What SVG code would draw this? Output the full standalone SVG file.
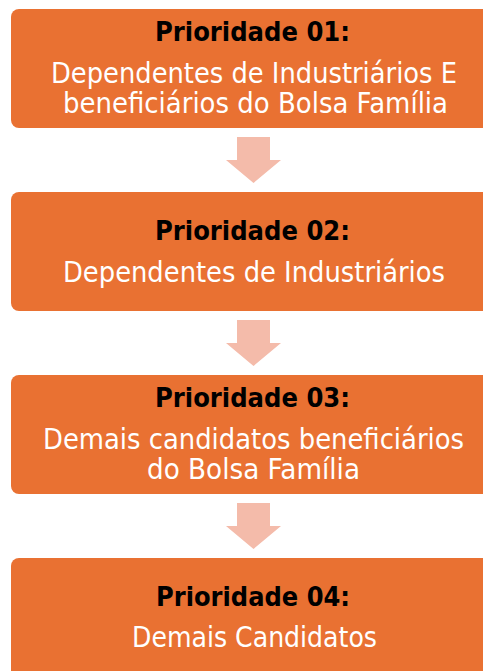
<svg xmlns="http://www.w3.org/2000/svg" width="483" height="671" viewBox="0 0 483 671">
<style>
.box{fill:#E97132;}
.arr{fill:#F4BBAA;}
.t{font-family:"DejaVu Sans","Liberation Sans",sans-serif;text-anchor:middle;}
.h{font-weight:bold;fill:#000000;font-size:26.5px;}
.b{fill:#FFFFFF;font-size:27.5px;}
</style>
<rect width="483" height="671" fill="#FFFFFF"/>
<g id="connectors">
<polygon class="arr" points="237,137 270,137 270,160 281,160 253.5,183 226,160 237,160"/>
<polygon class="arr" points="237,320 270,320 270,343 281,343 253.5,366 226,343 237,343"/>
<polygon class="arr" points="237,503 270,503 270,526 281,526 253.5,549 226,526 237,526"/>
</g>
<g id="node1">
<rect class="box" x="11" y="9" width="490" height="119" rx="8"/>
<text class="t h" x="252.5" y="41" textLength="195" lengthAdjust="spacingAndGlyphs">Prioridade 01:</text>
<text class="t b" x="254" y="83" textLength="406" lengthAdjust="spacingAndGlyphs">Dependentes de Industriários E</text>
<text class="t b" x="255.5" y="112.5" textLength="385" lengthAdjust="spacingAndGlyphs">beneficiários do Bolsa Família</text>
</g>
<g id="node2">
<rect class="box" x="11" y="192" width="490" height="119" rx="8"/>
<text class="t h" x="252.5" y="240" textLength="195" lengthAdjust="spacingAndGlyphs">Prioridade 02:</text>
<text class="t b" x="254" y="282" textLength="382" lengthAdjust="spacingAndGlyphs">Dependentes de Industriários</text>
</g>
<g id="node3">
<rect class="box" x="11" y="375" width="490" height="119" rx="8"/>
<text class="t h" x="252.5" y="407" textLength="195" lengthAdjust="spacingAndGlyphs">Prioridade 03:</text>
<text class="t b" x="253.5" y="449" textLength="421" lengthAdjust="spacingAndGlyphs">Demais candidatos beneficiários</text>
<text class="t b" x="253.5" y="479" textLength="213" lengthAdjust="spacingAndGlyphs">do Bolsa Família</text>
</g>
<g id="node4">
<rect class="box" x="11" y="558" width="490" height="130" rx="8"/>
<text class="t h" x="253" y="606" textLength="194" lengthAdjust="spacingAndGlyphs">Prioridade 04:</text>
<text class="t b" x="254.5" y="647" textLength="245" lengthAdjust="spacingAndGlyphs">Demais Candidatos</text>
</g>
</svg>
